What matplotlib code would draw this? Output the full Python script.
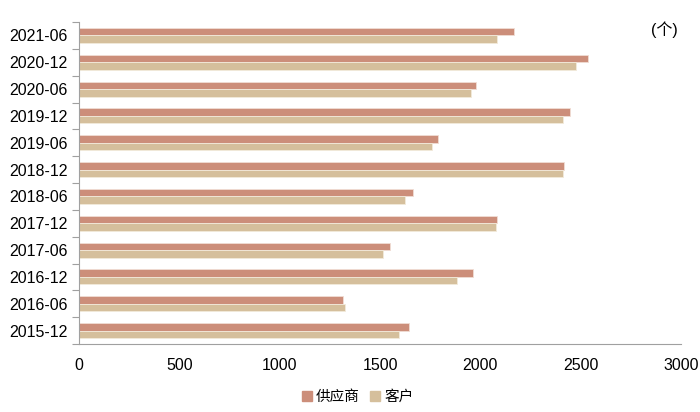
import matplotlib
matplotlib.use("Agg")
import matplotlib.pyplot as plt
import numpy as np
from matplotlib.lines import Line2D

categories = ["2015-12", "2016-06", "2016-12", "2017-06", "2017-12", "2018-06",
              "2018-12", "2019-06", "2019-12", "2020-06", "2020-12", "2021-06"]
supplier = [1647, 1317, 1965, 1550, 2083, 1663, 2419, 1789, 2446, 1979, 2537, 2169]
customer = [1597, 1328, 1884, 1516, 2076, 1626, 2410, 1757, 2413, 1954, 2476, 2083]
series_names = ["供应商", "客户"]
xticks = [0, 500, 1000, 1500, 2000, 2500, 3000]

plt.rcParams['font.family'] = ['Liberation Sans', 'Noto Sans CJK SC', 'DejaVu Sans']

c_sup = "#CC8E7A"
c_cus = "#D5BF9C"

fig = plt.figure(figsize=(7, 4.12), dpi=100)
ax = fig.add_axes([79/700, (412-344)/412, (681-79)/700, (344-22)/412])

y = np.arange(len(categories))
h = 0.28
ax.barh(y + h/2, supplier, height=h, color=c_sup, edgecolor="#F0DDD5", linewidth=0.6)
ax.barh(y - h/2, customer, height=h, color=c_cus, edgecolor="#F2EADB", linewidth=0.6)

ax.set_ylim(-0.5, len(categories) - 0.5)
ax.set_xlim(0, 3000)
ax.set_yticks(y)
ax.set_yticklabels(categories, fontsize=11.5)
ax.set_yticks(np.arange(-0.5, len(categories), 1), minor=True)
ax.tick_params(axis='y', which='major', length=0, pad=8)
ax.tick_params(axis='y', which='minor', length=5, color="#A0A0A0", width=0.8)
ax.set_xticks(xticks)
ax.set_xticklabels([str(v) for v in xticks], fontsize=11.5)
ax.tick_params(axis='x', length=0, pad=10)

for s in ["top", "right"]:
    ax.spines[s].set_visible(False)
for s in ["left", "bottom"]:
    ax.spines[s].set_color("#A0A0A0")
    ax.spines[s].set_linewidth(0.8)

fig.text(664/700, 1 - 30/412, "(个)", fontsize=11.5, ha="center", va="center")

handles = [Line2D([], [], marker="s", linestyle="none", markersize=6.5, color=c_sup),
           Line2D([], [], marker="s", linestyle="none", markersize=6.5, color=c_cus)]
fig.legend(handles, series_names, loc="center", bbox_to_anchor=(357/700, 1 - 397/412),
           ncol=2, frameon=False, fontsize=10.5, handletextpad=0.2, columnspacing=0.7,
           handlelength=0.8)

fig.savefig("out.png", dpi=100)
